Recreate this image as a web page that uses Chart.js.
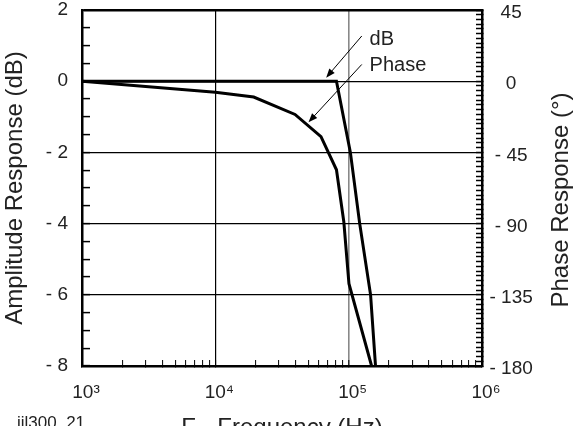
<!DOCTYPE html>
<html lang="en">
<head>
<meta charset="UTF-8">
<title>Amplitude and Phase Response</title>
<script src="https://cdn.jsdelivr.net/npm/chart.js"></script>
<style>
    body {
        margin: 0;
        background: #fff;
    }
    #wrap {
        width: 573px;
        height: 426px;
    }
</style>
</head>
<body>

<div id="wrap"><canvas id="myChart" width="573" height="426"></canvas></div>

<script>
    // amplitude curve, dB (left axis)
    const dbFreq = [1000, 81000, 103000, 121000, 146000, 159000];
    const dbValues = [0, 0, -2, -4, -6, -8];

    // phase curve, degrees (right axis)
    const phaseFreq = [1000, 10000, 19400, 39600, 62000, 81000, 92000, 100500, 148600];
    const phaseValues = [0, -7, -10, -21, -35, -56, -89, -128, -180];

    // tick labels
    const decadeTicks = [1000, 10000, 100000, 1000000];
    const decadeLabels = ['10³', '10⁴', '10⁵', '10⁶'];
    const dbLabelTicks = [2, 0, -2, -4, -6, -8];
    const dbGridTicks = [0, -2, -4, -6];
    const phaseLabelTicks = [45, 0, -45, -90, -135, -180];

    // callouts (text + arrows), in data units: frequency / dB
    const calloutText = ['dB', 'Phase'];
    const calloutTextFreq = [143600, 143600];
    const calloutTextDb = [1.17, 0.45];
    const arrowTailFreq = [125400, 125400];
    const arrowTailDb = [1.27, 0.47];
    const arrowTipFreq = [67800, 50000];
    const arrowTipDb = [0.1, -1.15];

    const FONT = '"Liberation Sans", Arial, Helvetica, sans-serif';
    const TEXT = '#222';
    const CLEAR = 'rgba(0,0,0,0)';

    // minor tick positions: 1..9 per decade
    const xTicks = [];
    for (let d = 1000; d < 1000000; d *= 10) {
        for (let m = 1; m <= 9; m++) xTicks.push(m * d);
    }
    xTicks.push(1000000);

    const dbTicks = [];
    for (let v = -8; v <= 2; v += 0.5) dbTicks.push(v);

    const phaseTicks = [];
    for (let v = -180; v <= 45; v += 3) phaseTicks.push(v);

    function minusLabel(v) {
        return v < 0 ? '- ' + Math.abs(v) : String(v);
    }

    // fixed box sizes so the plot frame sits where the original one does
    function fixWidth(w) {
        return s => {
            s.width = w;
            s.paddingTop = 0;
            s.paddingBottom = 0;
        };
    }

    const callouts = {
        id: 'callouts',
        afterDatasetsDraw(chart) {
            const ctx = chart.ctx;
            const x = chart.scales.x;
            const y = chart.scales.y;
            ctx.save();
            ctx.strokeStyle = '#000';
            ctx.fillStyle = '#000';
            ctx.lineWidth = 1;
            for (let i = 0; i < arrowTipFreq.length; i++) {
                const x1 = x.getPixelForValue(arrowTailFreq[i]);
                const y1 = y.getPixelForValue(arrowTailDb[i]);
                const x2 = x.getPixelForValue(arrowTipFreq[i]);
                const y2 = y.getPixelForValue(arrowTipDb[i]);
                const a = Math.atan2(y2 - y1, x2 - x1);
                ctx.beginPath();
                ctx.moveTo(x1, y1);
                ctx.lineTo(x2 - 6 * Math.cos(a), y2 - 6 * Math.sin(a));
                ctx.stroke();
                ctx.beginPath();
                ctx.moveTo(x2, y2);
                ctx.lineTo(x2 - 9 * Math.cos(a) + 3.5 * Math.sin(a), y2 - 9 * Math.sin(a) - 3.5 * Math.cos(a));
                ctx.lineTo(x2 - 9 * Math.cos(a) - 3.5 * Math.sin(a), y2 - 9 * Math.sin(a) + 3.5 * Math.cos(a));
                ctx.closePath();
                ctx.fill();
            }
            ctx.fillStyle = TEXT;
            ctx.font = '20px ' + FONT;
            ctx.textAlign = 'left';
            ctx.textBaseline = 'middle';
            calloutText.forEach((t, i) => {
                ctx.fillText(t, x.getPixelForValue(calloutTextFreq[i]), y.getPixelForValue(calloutTextDb[i]));
            });

            // right axis title reads bottom-to-top like the left one
            const y2s = chart.scales.y2;
            ctx.font = '24px ' + FONT;
            ctx.textAlign = 'center';
            ctx.translate(y2s.right - 12, (chart.chartArea.top + chart.chartArea.bottom) / 2 + 12);
            ctx.rotate(-Math.PI / 2);
            ctx.fillText('Phase Response (°)', 0, 0);
            ctx.restore();

            // figure id, bottom left
            ctx.save();
            ctx.fillStyle = TEXT;
            ctx.font = '17px ' + FONT;
            ctx.textAlign = 'left';
            ctx.textBaseline = 'alphabetic';
            ctx.fillText('iil300_21', 17, chart.height + 2);
            ctx.restore();
        }
    };

    Chart.defaults.font.family = FONT;
    Chart.defaults.color = TEXT;

    const chart = new Chart(document.getElementById('myChart').getContext('2d'), {
        type: 'line',
        data: {
            datasets: [
                {
                    label: 'dB',
                    data: dbFreq.map((f, i) => ({ x: f, y: dbValues[i] })),
                    yAxisID: 'y',
                    borderColor: '#000',
                    borderWidth: 3,
                    pointRadius: 0,
                    tension: 0
                },
                {
                    label: 'Phase',
                    data: phaseFreq.map((f, i) => ({ x: f, y: phaseValues[i] })),
                    yAxisID: 'y2',
                    borderColor: '#000',
                    borderWidth: 3,
                    pointRadius: 0,
                    tension: 0
                }
            ]
        },
        options: {
            responsive: false,
            animation: false,
            devicePixelRatio: 1,
            layout: { padding: { top: 10, left: 0, right: 0, bottom: 0 } },
            plugins: {
                legend: { display: false },
                tooltip: { enabled: false }
            },
            scales: {
                x: {
                    type: 'logarithmic',
                    position: 'bottom',
                    min: 1000,
                    max: 1000000,
                    afterBuildTicks: s => { s.ticks = xTicks.map(v => ({ value: v })); },
                    afterFit: s => { s.height = 60; },
                    ticks: {
                        autoSkip: false,
                        maxRotation: 0,
                        padding: 21,
                        labelOffset: 4,
                        font: { size: 19 },
                        callback: v => {
                            const i = decadeTicks.indexOf(v);
                            return i >= 0 ? decadeLabels[i] : '';
                        }
                    },
                    grid: {
                        color: c => c.tick && c.tick.value === 10000 ? '#000' : (c.tick && c.tick.value === 100000 ? '#888' : CLEAR),
                        lineWidth: c => c.tick && c.tick.value === 100000 ? 1.6 : 1.2,
                        tickColor: '#000',
                        tickLength: -6,
                        tickWidth: 1
                    },
                    border: { display: true, color: '#000', width: 2.5 },
                    title: {
                        display: true,
                        text: 'F - Frequency (Hz)',
                        font: { size: 24, lineHeight: 1 },
                        padding: { top: 0, bottom: -14 }
                    }
                },
                y: {
                    position: 'left',
                    min: -8,
                    max: 2,
                    afterBuildTicks: s => { s.ticks = dbTicks.map(v => ({ value: v })); },
                    afterFit: fixWidth(82),
                    ticks: {
                        autoSkip: false,
                        padding: 22,
                        font: { size: 19 },
                        callback: v => dbLabelTicks.includes(v) ? minusLabel(v) : ''
                    },
                    grid: {
                        color: c => c.tick && (dbGridTicks.includes(c.tick.value) || c.tick.value === 2) ? '#000' : CLEAR,
                        lineWidth: c => c.tick && c.tick.value === 2 ? 2.5 : 1.2,
                        tickColor: '#000',
                        tickLength: -8,
                        tickWidth: 1.5
                    },
                    border: { display: true, color: '#000', width: 2.5 },
                    title: {
                        display: true,
                        text: 'Amplitude Response (dB)',
                        font: { size: 24, lineHeight: 1 },
                        padding: { top: 3, bottom: 0 }
                    }
                },
                y2: {
                    position: 'right',
                    min: -180,
                    max: 45,
                    afterBuildTicks: s => { s.ticks = phaseTicks.map(v => ({ value: v })); },
                    afterFit: fixWidth(91),
                    ticks: {
                        autoSkip: false,
                        crossAlign: 'center',
                        padding: 13.5,
                        labelOffset: 3,
                        font: { size: 19 },
                        callback: v => phaseLabelTicks.includes(v) ? minusLabel(v) : ''
                    },
                    grid: {
                        drawOnChartArea: false,
                        color: '#000',
                        tickColor: '#000',
                        tickLength: -6,
                        tickWidth: 1.5
                    },
                    border: { display: true, color: '#000', width: 2.5 }
                }
            }
        },
        plugins: [callouts]
    });
</script>

</body>
</html>
